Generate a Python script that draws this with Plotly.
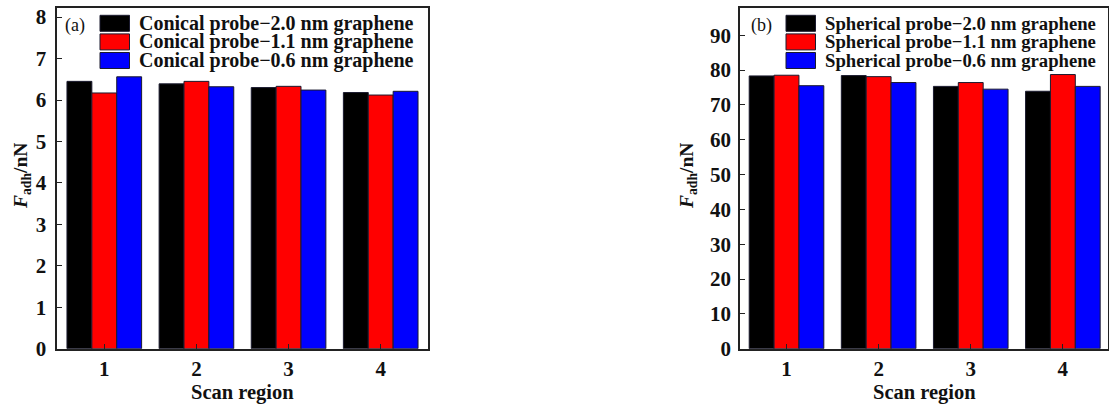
import plotly.graph_objects as go

W, H = 1109, 405

regions = [1, 2, 3, 4]
tick_labels = ["1", "2", "3", "4"]

conical_names = ["Conical probe\u22122.0 nm graphene",
                 "Conical probe\u22121.1 nm graphene",
                 "Conical probe\u22120.6 nm graphene"]
conical_20 = [6.45, 6.39, 6.30, 6.18]
conical_11 = [6.17, 6.45, 6.33, 6.12]
conical_06 = [6.56, 6.32, 6.24, 6.21]

spherical_names = ["Spherical probe\u22122.0 nm graphene",
                   "Spherical probe\u22121.1 nm graphene",
                   "Spherical probe\u22120.6 nm graphene"]
spherical_20 = [78.3, 78.4, 75.3, 73.9]
spherical_11 = [78.5, 78.1, 76.4, 78.7]
spherical_06 = [75.5, 76.4, 74.5, 75.3]

colors = ["#000000", "#ff0000", "#0000ff"]
FONT = "Liberation Serif"

fig = go.Figure()

panels = [
    ("x", "y", [conical_20, conical_11, conical_06], conical_names),
    ("x2", "y2", [spherical_20, spherical_11, spherical_06], spherical_names),
]
for xa, ya, series, names in panels:
    for vals, name, c in zip(series, names, colors):
        fig.add_trace(go.Bar(
            x=regions, y=vals, name=name, xaxis=xa, yaxis=ya,
            marker=dict(color=c, line=dict(color="#1a1a2e", width=1)),
            showlegend=False,
        ))

def px_x(p):
    return p / W

def px_y(p):
    return 1 - p / H

axis_common = dict(
    showgrid=False, zeroline=False, showline=True, linecolor="#222",
    linewidth=1.5, mirror=True, ticks="inside", ticklen=5, tickwidth=1.2,
    tickcolor="#222", automargin=False,
    tickfont=dict(family=FONT, size=21, color="#111", weight="bold"),
)

fig.update_layout(
    width=W, height=H,
    margin=dict(l=0, r=0, t=0, b=0),
    paper_bgcolor="white", plot_bgcolor="white",
    barmode="group", bargap=0.19, bargroupgap=0,
    showlegend=False,
    xaxis=dict(domain=[px_x(57.3), px_x(427.7)], range=[0.49, 4.51],
               tickvals=regions, ticktext=tick_labels, anchor="y", **axis_common),
    yaxis=dict(domain=[px_y(348.7), px_y(8)], range=[0, 8.22], ticklabelstandoff=5,
               tickvals=[0, 1, 2, 3, 4, 5, 6, 7, 8], anchor="x", **axis_common),
    xaxis2=dict(domain=[px_x(740), px_x(1108)], range=[0.495, 4.49],
                tickvals=regions, ticktext=tick_labels, anchor="y2", **axis_common),
    yaxis2=dict(domain=[px_y(348.7), px_y(8)], range=[0, 97.8], ticklabelstandoff=3,
                tickvals=[0, 10, 20, 30, 40, 50, 60, 70, 80, 90], anchor="x2", **axis_common),
)

ann = []
shapes = []
title_font = dict(family=FONT, size=20.5, color="#111", weight="bold")
ytitle_font = dict(family=FONT, size=19.5, color="#111", weight="bold")
for (xa, ya, series, names), cx_title, ytitle_x, label, lab_x, sw_x0, txt_x, lsize in [
    (panels[0], 242.5, 22, "(a)", 75, 100, 137, 20),
    (panels[1], 924, 688, "(b)", 761, 786, 823, 18.7),
]:
    ann.append(dict(text="Scan region", x=px_x(cx_title), y=px_y(392), xref="paper", yref="paper",
                    showarrow=False, font=title_font, xanchor="center", yanchor="middle"))
    ann.append(dict(text="<i>F</i><sub>adh</sub>/nN", x=px_x(ytitle_x), y=px_y(176),
                    xref="paper", yref="paper", showarrow=False, textangle=-90,
                    font=ytitle_font, xanchor="center", yanchor="middle"))
    ann.append(dict(text=label, x=px_x(lab_x), y=px_y(25), xref="paper", yref="paper",
                    showarrow=False, font=dict(family=FONT, size=18, color="#111"),
                    xanchor="center", yanchor="middle"))
    for i, (name, c) in enumerate(zip(names, colors)):
        yc = 23.3 + i * 18.6
        shapes.append(dict(type="rect", xref="paper", yref="paper",
                           x0=px_x(sw_x0), x1=px_x(sw_x0 + 29.5),
                           y0=px_y(yc + 8), y1=px_y(yc - 8),
                           fillcolor=c, line=dict(color="#1a1a2e", width=1)))
        ann.append(dict(text=name, x=px_x(txt_x), y=px_y(yc), xref="paper", yref="paper",
                        showarrow=False, font=dict(family=FONT, size=lsize, color="#111", weight="bold"),
                        xanchor="left", yanchor="middle"))

fig.update_layout(annotations=ann, shapes=shapes)
fig.write_html("out.html")
